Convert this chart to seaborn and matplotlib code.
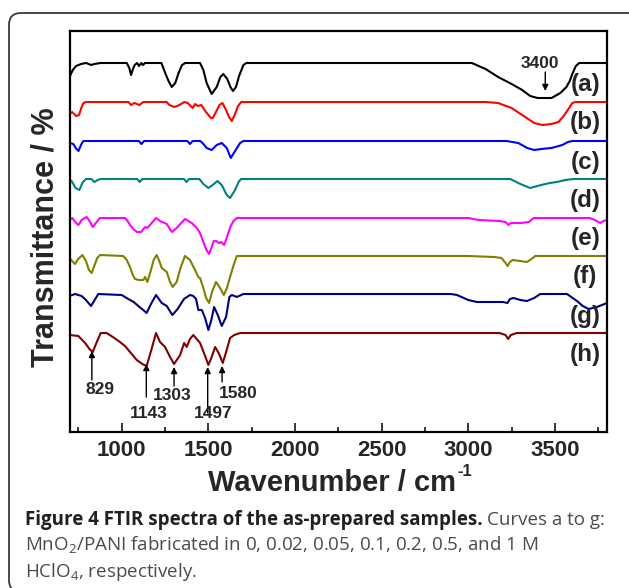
import numpy as np
import pandas as pd
import matplotlib
matplotlib.use('Agg')
import matplotlib.pyplot as plt
import seaborn as sns
from matplotlib.patches import FancyBboxPatch
from matplotlib.transforms import IdentityTransform

# curves, colours and vertical offsets (a.u.)
curve_names = ['(a)', '(b)', '(c)', '(d)', '(e)', '(f)', '(g)', '(h)']
curve_colors = ['#000000', '#ff0000', '#0000ff', '#008080',
                '#ff00ff', '#808000', '#000080', '#800000']
offsets = [369, 330, 291, 253, 214, 176, 137, 99]

# band depth below each baseline (a.u.)
wn_a = [700, 719, 738, 767, 796, 825, 844, 880, 1030, 1045, 1055, 1066, 1076, 1090, 1101, 1114, 1124, 1135,
        1230, 1252, 1271, 1290, 1310, 1329, 1349, 1368, 1453, 1472, 1491, 1520, 1549, 1570, 1587, 1610, 1628,
        1643, 1660, 1678, 1703, 1720, 3020, 3100, 3172, 3250, 3311, 3357, 3400, 3480, 3531, 3566, 3585, 3600,
        3620, 3640, 3800]
dip_a = [14, 7, 3, 1, 0, 2, 1, 0, 0, 5, 12, 6, 2, 0, 3, 0, 2, 0,
         0, 10, 18, 24, 20, 10, 2, 0, 0, 7, 20, 31, 24, 14, 11, 16, 24,
         28, 24, 13, 2, 0, 0, 6, 14, 21, 27, 33, 35, 35, 30, 24, 18, 11,
         3, 0, 0]

wn_b = [700, 715, 738, 755, 770, 780, 796, 1040, 1055, 1074, 1103, 1125, 1260, 1276, 1305, 1334, 1362, 1382,
        1410, 1425, 1440, 1460, 1487, 1516, 1526, 1545, 1565, 1582, 1603, 1620, 1636, 1655, 1672, 1690,
        3100, 3172, 3250, 3311, 3380, 3427, 3480, 3520, 3545, 3566, 3585, 3600, 3620, 3800]
dip_b = [12, 10, 14, 13, 5, 1, 0, 0, 3, 1, 3, 0, 0, 3, 5, 3, 0, 1,
         6, 2, 4, 3, 10, 16, 16, 10, 3, 1, 8, 15, 19, 12, 4, 0,
         0, 1, 6, 13, 21, 23, 22, 20, 15, 10, 5, 1, 0, 0]

wn_c = [700, 722, 740, 752, 766, 780, 1100, 1115, 1130, 1380, 1395, 1410, 1455, 1472, 1491, 1520, 1549, 1578,
        1607, 1630, 1655, 1684, 1703, 3220, 3288, 3340, 3380, 3420, 3480, 3542, 3575, 3600, 3800]
dip_c = [2, 3, 8, 10, 4, 0, 0, 3, 0, 0, 3, 0, 0, 3, 7, 9, 4, 2,
         7, 17, 10, 2, 0, 0, 2, 7, 9, 8, 7, 4, 1, 0, 0]

wn_d = [700, 712, 735, 757, 777, 796, 825, 844, 863, 880, 1090, 1105, 1120, 1360, 1375, 1390, 1410, 1449,
        1472, 1501, 1526, 1553, 1578, 1607, 1626, 1655, 1675, 1690, 3242, 3300, 3357, 3420, 3470, 3511, 3560,
        3606, 3800]
dip_d = [1, 2, 9, 11, 3, 0, 0, 3, 1, 0, 0, 3, 0, 0, 3, 0, 0, 0,
         5, 9, 6, 2, 6, 16, 19, 11, 3, 0, 0, 5, 9, 6, 4, 3, 1,
         0, 0]

wn_e = [700, 716, 733, 751, 770, 799, 815, 834, 852, 876, 1020, 1035, 1049, 1068, 1088, 1113, 1136, 1149,
        1164, 1199, 1222, 1261, 1290, 1318, 1366, 1405, 1434, 1453, 1472, 1490, 1505, 1518, 1532, 1548, 1562,
        1575, 1592, 1610, 1630, 1646, 1665, 3000, 3060, 3180, 3215, 3232, 3245, 3300, 3350, 3376, 3700, 3730,
        3761, 3780, 3800]
dip_e = [2, 0, 4, 7, 2, -1, 3, 9, 5, 0, 0, 3, 7, 11, 14, 14, 9, 10,
         7, 0, 3, 6, 14, 10, 1, 5, 10, 15, 24, 32, 36, 30, 23, 23, 25,
         24, 27, 18, 8, 3, 0, 0, 2, 3, 4, 7, 5, 5, 4, 0, 0, 2,
         5, 3, 2]

wn_f = [700, 720, 732, 750, 775, 795, 812, 828, 845, 860, 876, 1010, 1030, 1049, 1065, 1078, 1100, 1126,
        1136, 1149, 1170, 1185, 1203, 1220, 1232, 1261, 1278, 1295, 1318, 1340, 1366, 1395, 1424, 1443, 1453,
        1472, 1488, 1505, 1522, 1545, 1565, 1590, 1608, 1626, 1645, 1665, 3000, 3150, 3191, 3215, 3226, 3240,
        3256, 3300, 3338, 3365, 3386, 3800]
dip_f = [2, 6, 8, 3, -1, 5, 14, 17, 9, 2, -1, 0, 4, 11, 19, 23, 24, 24,
         21, 26, 14, 4, -1, 6, 12, 16, 25, 31, 26, 12, 0, 4, 14, 21, 22,
         32, 42, 47, 36, 26, 31, 39, 32, 21, 10, 0, 0, 1, 2, 7, 10, 6,
         4, 5, 6, 3, 0, 0]

wn_g = [700, 732, 770, 795, 824, 845, 866, 1001, 1039, 1070, 1097, 1125, 1145, 1170, 1199, 1232, 1261, 1293,
        1324, 1360, 1395, 1414, 1430, 1443, 1463, 1482, 1501, 1518, 1534, 1555, 1578, 1603, 1622, 1636, 1665,
        1703, 2900, 2935, 3000, 3050, 3200, 3226, 3240, 3261, 3300, 3338, 3380, 3415, 3569, 3627, 3660, 3694,
        3742, 3800]
dip_g = [1, -1, 1, 5, 11, 5, -1, 0, 4, 7, 11, 15, 18, 9, 0, 8, 11, 20,
         14, 4, 0, 1, 4, 15, 15, 23, 35, 25, 12, 20, 31, 22, 2, 0, 2,
         -1, -1, 0, 5, 7, 7, 8, 4, 3, 5, 6, 3, -1, -1, 6, 11, 14,
         12, 8]

wn_h = [700, 751, 790, 815, 834, 855, 880, 914, 950, 991, 1020, 1049, 1088, 1120, 1145, 1175, 1199, 1222,
        1251, 1280, 1303, 1338, 1361, 1376, 1395, 1414, 1453, 1480, 1501, 1520, 1540, 1560, 1584, 1605, 1626,
        1650, 1684, 3180, 3215, 3230, 3245, 3280, 3800]
dip_h = [2, 3, 10, 16, 19, 10, 0, 0, 4, 9, 13, 19, 27, 31, 33, 15, 0, 9,
         14, 24, 31, 22, 10, 14, 6, 2, 10, 22, 32, 24, 14, 20, 30, 18, 5,
         2, 0, 0, 2, 6, 2, 0, 0]

# marked bands on curve (h) and on curve (a)
h_bands = [829, 1143, 1303, 1497, 1580]
a_band = 3400

spectra = [(wn_a, dip_a), (wn_b, dip_b), (wn_c, dip_c), (wn_d, dip_d),
           (wn_e, dip_e), (wn_f, dip_f), (wn_g, dip_g), (wn_h, dip_h)]

rows = []
for name, off, (wn, dip) in zip(curve_names, offsets, spectra):
    for w, d in zip(wn, dip):
        rows.append((name, w, off - d))
df = pd.DataFrame(rows, columns=['sample', 'wavenumber', 'transmittance'])

sns.set_theme(style='ticks')
plt.rcParams['font.family'] = ['Liberation Sans', 'DejaVu Sans']
plt.rcParams['mathtext.fontset'] = 'custom'
plt.rcParams['mathtext.rm'] = 'Open Sans'

W, H = 629, 588
fig = plt.figure(figsize=(W / 100, H / 100), dpi=100)
ax = fig.add_axes([69.5 / W, 1 - 432 / H, (607 - 69.5) / W, (432 - 31) / H])

sns.lineplot(data=df, x='wavenumber', y='transmittance', hue='sample',
             palette=curve_colors, sort=False, estimator=None, lw=1.5,
             legend=False, ax=ax)

ax.set_xlim(700, 3800)
ax.set_ylim(0, 401)
ax.set_xlabel('')
ax.set_ylabel('')
ax.set_yticks([])
ax.set_xticks([1000, 1500, 2000, 2500, 3000, 3500])
ax.set_xticklabels(['1000', '1500', '2000', '2500', '3000', '3500'],
                   fontsize=16, fontweight='bold')
ax.set_xticks(np.arange(750, 3800, 500), minor=True)
ax.tick_params(axis='x', which='major', direction='in', length=6.5, width=1.3, pad=6)
ax.tick_params(axis='x', which='minor', direction='in', length=3.5, width=1.3)
for sp in ax.spines.values():
    sp.set_linewidth(1.6)
    sp.set_color('black')

# curve letters
for name, off in zip(curve_names, offsets):
    ax.text(3675, off - 21, name, fontsize=17.5, fontweight='bold',
            ha='center', va='center')

# band markers on (h)
arrow_kw = dict(arrowstyle='-|>', color='black', lw=1.0, mutation_scale=9,
                shrinkA=0, shrinkB=0)
h_head = [81, 68, 65, 65, 66]
h_tail = [52, 35, 46, 19, 50]
h_text = [(878, 42), (1156, 19), (1291, 37), (1527, 19), (1671, 39)]
for b, hd, tl, (tx, ty) in zip(h_bands, h_head, h_tail, h_text):
    ax.annotate('', xy=(b, hd), xytext=(b, tl), arrowprops=arrow_kw)
    ax.text(tx, ty, str(b), fontsize=12.5, fontweight='bold',
            ha='center', va='center')

ax.annotate('', xy=(3444, 341), xytext=(3444, 360), arrowprops=arrow_kw)
ax.text(3415, 369, str(a_band), fontsize=12.5, fontweight='bold',
        ha='center', va='center')

# axis titles
xl = fig.text(332 / W, 1 - 491 / H, 'Wavenumber / cm',
              fontsize=21, fontweight='bold', ha='center', va='baseline')
fig.text(46 / W, 1 - 237 / H, 'Transmittance / %', fontsize=22,
         fontweight='bold', rotation=90, ha='center', va='center')
fig.canvas.draw()
renderer = fig.canvas.get_renderer()
xb = xl.get_window_extent(renderer)
fig.text((xb.x1 + 1) / W, 1 - 476 / H, '-1', fontsize=12,
         fontweight='bold', ha='left', va='baseline')

# caption
cap_font = ['Open Sans', 'DejaVu Sans']
cap_size = 13.5
t1 = fig.text(25 / W, 1 - 525 / H, 'Figure 4 FTIR spectra of the as-prepared samples.',
              family=cap_font, fontsize=cap_size, fontweight='bold', color='#231f20',
              va='baseline')
bb = t1.get_window_extent(renderer)
fig.text((bb.x1 + 4) / W, 1 - 525 / H, 'Curves a to g:', family=cap_font,
         fontsize=cap_size, color='#4a4a4a', va='baseline')
fig.text(25 / W, 1 - 551 / H,
         'MnO$_2$/PANI fabricated in 0, 0.02, 0.05, 0.1, 0.2, 0.5, and 1 M',
         family=cap_font, fontsize=cap_size, color='#4a4a4a', va='baseline')
fig.text(25 / W, 1 - 577 / H, 'HClO$_4$, respectively.', family=cap_font,
         fontsize=cap_size, color='#4a4a4a', va='baseline')

# rounded frame around the figure panel
frame = FancyBboxPatch((9, H - 592), 640, 592 - 13,
                       boxstyle='round,pad=0,rounding_size=12',
                       transform=IdentityTransform(), fill=False,
                       ec='#3a3a3a', lw=1.3)
fig.patches.append(frame)

fig.savefig('out.png', dpi=100)
